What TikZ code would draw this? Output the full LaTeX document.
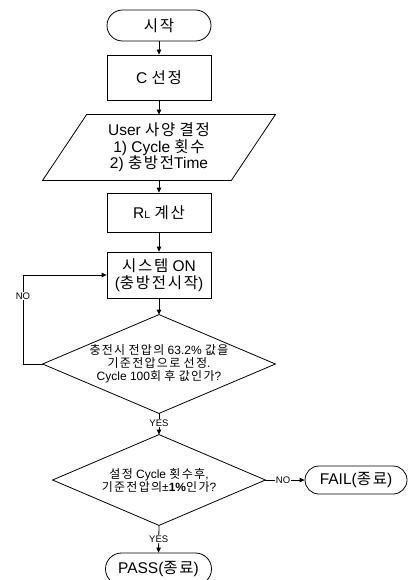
\documentclass[tikz,border=0pt]{standalone}
\usepackage{fontspec}
\setmainfont{Liberation Sans}
\newfontfamily\krfont[LetterSpace=11]{Noto Sans CJK KR}
\newcommand\hg[1]{{\krfont #1}}
\usetikzlibrary{arrows.meta,calc}

\begin{document}
\begin{tikzpicture}[x=1pt,y=-1pt,line width=0.8pt,
  term/.style={draw,rounded corners=15.5pt,minimum width=104pt,minimum height=31pt,
    inner sep=0pt,font=\fontsize{15.5}{16.5}\selectfont},
  proc/.style={draw,minimum width=104pt,inner sep=0pt,align=center,
    font=\fontsize{15.5}{16.5}\selectfont},
  qtext/.style={inner sep=0pt,align=center,font=\fontsize{12}{13}\selectfont},
  lab/.style={fill=white,inner sep=0.8pt,font=\fontsize{9.5}{10}\selectfont},
  flow/.style={-{Triangle[length=5pt,width=4.5pt]}}]
\useasboundingbox (0,0) rectangle (408,580);

% process nodes
\node[term] (start) at (159,25.5) {\hg{시작}};
\node[proc,minimum height=45pt] (csel) at (159,77.5) {C \hg{선정}};
\node[inner sep=0pt,minimum width=144pt,minimum height=65pt,align=center,
  font=\fontsize{15.5}{16.5}\selectfont] (usr) at (159,147.5)
  {User \hg{사양} \hg{결정}\\1) Cycle \hg{횟수}\\2) \hg{충방전}Time};
\draw ($(usr.north west)$) -- ($(usr.north east)+(44,0)$) -- (usr.south east)
  -- ($(usr.south west)+(-44,0)$) -- cycle;
\node[proc,minimum height=39pt] (rl) at (159,212.5)
  {R{\fontsize{10.5}{10}\selectfont L} \hg{계산}};
\node[proc,minimum height=46pt] (sys) at (159,275)
  {\hg{시스템} ON\\(\hg{충방전시작})};

% decisions
\node[qtext,minimum width=232pt,minimum height=98pt] (q1) at (159,364)
  {\hg{충전시} \hg{전압의} 63.2\% \hg{값을}\\\hg{기준전압으로} \hg{선정}.\\Cycle 100\hg{회} \hg{후} \hg{값인가}?};
\draw (q1.north) -- (q1.east) -- (q1.south) -- (q1.west) -- cycle;
\node[qtext,minimum width=212pt,minimum height=90pt] (q2) at (159,480)
  {\hg{설정} Cycle \hg{횟수후},\\\hg{기준전압의}±\textbf{1\%}\hg{인가}?};
\draw (q2.north) -- (q2.east) -- (q2.south) -- (q2.west) -- cycle;

% end points
\node[term,minimum width=102pt,minimum height=28pt,rounded corners=14pt] (fail)
  at (356,480) {FAIL(\hg{종료})};
\node[term,minimum width=106pt,minimum height=32pt,rounded corners=16pt] (pass)
  at (158.5,569) {PASS(\hg{종료})};

% connectors
\draw[flow] (start) -- (csel);
\draw[flow] (csel) -- (usr);
\draw[flow] (usr) -- (rl);
\draw[flow] (rl) -- (sys);
\draw[flow] (sys) -- (q1);
\coordinate (loop) at (23,275);
\draw[flow] (q1.west) -| (loop) -- (sys.west);
\node[lab] (nolab) at (23,296) {NO};
\draw[flow] (q1.south) -- node[lab,pos=0.45] (yes1) {YES} (q2.north);
\draw[flow] (q2.east) -- node[lab,pos=0.45] (no2) {NO} (fail.west);
\draw[flow] (q2.south) -- node[lab,pos=0.5] (yes2) {YES} (pass.north);
\end{tikzpicture}
\end{document}
